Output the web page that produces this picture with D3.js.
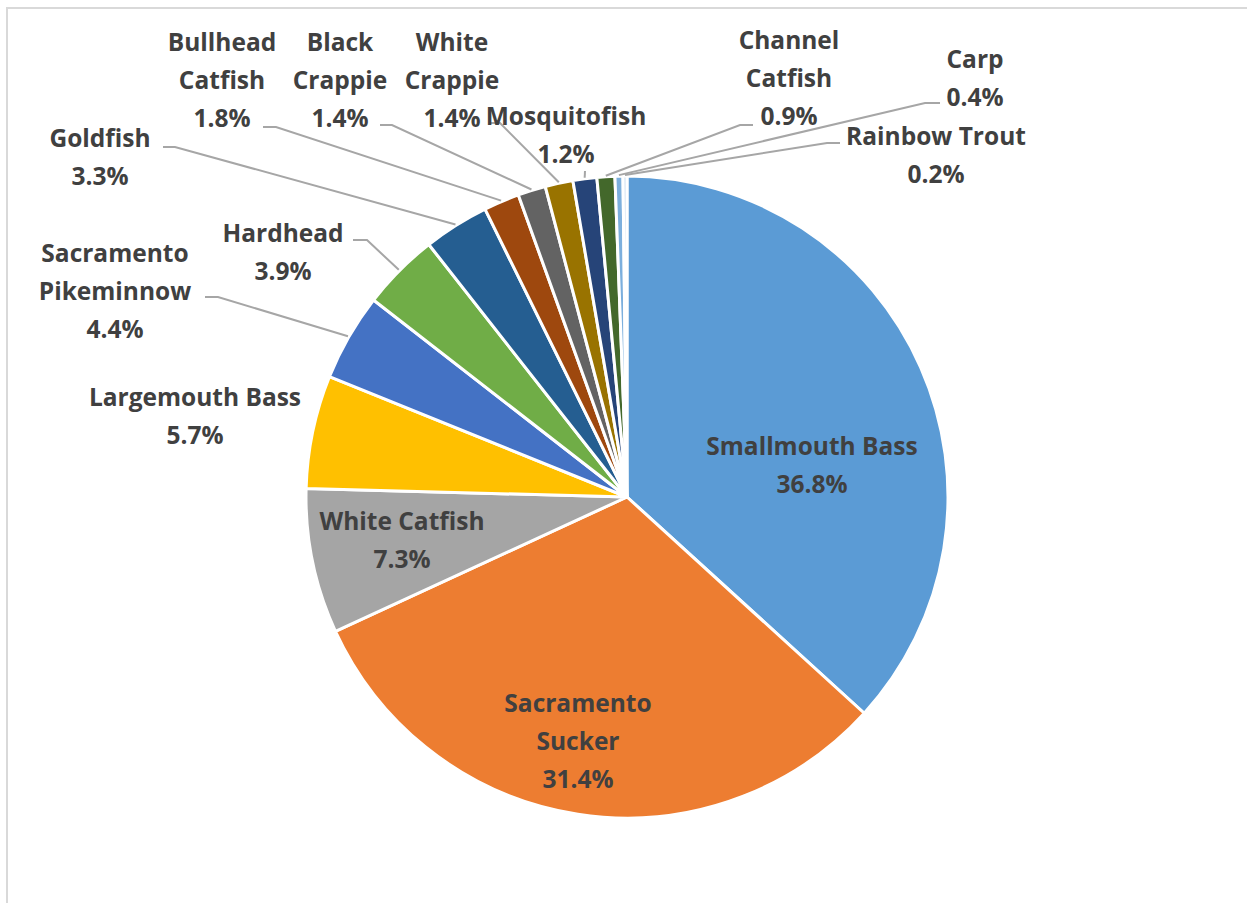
<!DOCTYPE html>
<html>
<head>
<meta charset="utf-8">
<script src="https://cdn.jsdelivr.net/npm/d3@7"></script>
<style>
  html, body { margin: 0; padding: 0; background: #fff; }
  svg { display: block; }
  .lbl { font-family: "Open Sans", Lato, sans-serif; font-weight: 700; fill: #404040; }
</style>
</head>
<body>
<svg id="chart" width="1247" height="903"></svg>
<script>
// Fish species share (%) of the catch
const categories = [
  "Smallmouth Bass", "Sacramento Sucker", "White Catfish", "Largemouth Bass",
  "Sacramento Pikeminnow", "Hardhead", "Goldfish", "Bullhead Catfish",
  "Black Crappie", "White Crappie", "Mosquitofish", "Channel Catfish",
  "Carp", "Rainbow Trout"
];
const shares = [36.8, 31.4, 7.3, 5.7, 4.4, 3.9, 3.3, 1.8, 1.4, 1.4, 1.2, 0.9, 0.4, 0.2];
// How each label wraps onto lines
const labelLines = [
  ["Smallmouth Bass"], ["Sacramento", "Sucker"], ["White Catfish"], ["Largemouth Bass"],
  ["Sacramento", "Pikeminnow"], ["Hardhead"], ["Goldfish"], ["Bullhead", "Catfish"],
  ["Black", "Crappie"], ["White", "Crappie"], ["Mosquitofish"], ["Channel", "Catfish"],
  ["Carp"], ["Rainbow Trout"]
];
const palette = [
  "#5B9BD5", "#ED7D31", "#A5A5A5", "#FFC000", "#4472C4", "#70AD47", "#255E91",
  "#9E480E", "#636363", "#997300", "#264478", "#43682B", "#7CAFDD", "#C9DDF0"
];

// Label placement: centre x, first baseline y, and leader line start / elbow
const labelPos = [
  { x: 812, y: 455 },
  { x: 578, y: 712 },
  { x: 402, y: 530 },
  { x: 195, y: 406 },
  { x: 115, y: 262, lead: [205, 297, 218] },
  { x: 283, y: 242, lead: [353, 240, 367] },
  { x: 100, y: 147, lead: [163, 147, 175] },
  { x: 222, y: 51,  lead: [263, 127, 276] },
  { x: 340, y: 51,  lead: [380, 125, 392] },
  { x: 452, y: 51,  lead: [490, 123, 500] },
  { x: 566, y: 125, lead: [585, 171, 585] },
  { x: 789, y: 49,  lead: [753, 125, 740] },
  { x: 975, y: 68,  lead: [940, 103, 925] },
  { x: 936, y: 145, lead: [840, 143, 827] }
];

const svg = d3.select("#chart");
const W = 1247, H = 903;
const cx = 627, cy = 497, R = 321;
const lineGap = 38;
const fontSize = 24.5;

// Chart area frame
svg.append("rect")
  .attr("x", 7).attr("y", 8).attr("width", W + 20).attr("height", H + 20)
  .attr("fill", "none").attr("stroke", "#D9D9D9").attr("stroke-width", 2);

const data = categories.map((c, i) => ({ name: c, value: shares[i], i }));
const pie = d3.pie().sort(null).value(d => d.value).startAngle(0).endAngle(2 * Math.PI);
const arcs = pie(data);
const arc = d3.arc().innerRadius(0).outerRadius(R);

const g = svg.append("g").attr("transform", `translate(${cx},${cy})`);
g.selectAll("path.slice").data(arcs).join("path")
  .attr("class", "slice")
  .attr("d", arc)
  .attr("fill", d => palette[d.data.i])
  .attr("stroke", "#fff")
  .attr("stroke-width", 3)
  .attr("stroke-linejoin", "round");

// Leader lines for the outside labels
const edgeArc = d3.arc().innerRadius(R + 1).outerRadius(R + 1);
arcs.forEach(a => {
  const p = labelPos[a.data.i];
  if (!p.lead) return;
  const [ex, ey] = edgeArc.centroid(a);
  const [sx, sy, kx] = p.lead;
  svg.append("polyline")
    .attr("points", `${sx},${sy} ${kx},${sy} ${cx + ex},${cy + ey}`)
    .attr("fill", "none")
    .attr("stroke", "#A6A6A6")
    .attr("stroke-width", 2);
});

// Data labels
arcs.forEach(a => {
  const i = a.data.i;
  const p = labelPos[i];
  const lines = labelLines[i].concat([d3.format(".1f")(a.data.value) + "%"]);
  const t = svg.append("text")
    .attr("class", "lbl")
    .attr("text-anchor", "middle")
    .attr("font-size", fontSize);
  lines.forEach((ln, k) => {
    t.append("tspan").attr("x", p.x).attr("y", p.y + k * lineGap).text(ln);
  });
});
</script>
</body>
</html>
